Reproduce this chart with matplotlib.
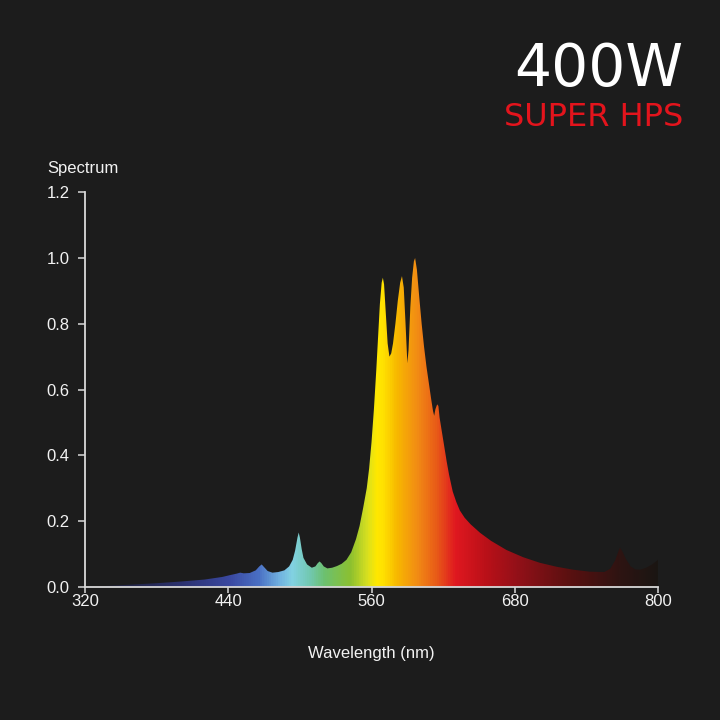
import numpy as np
import matplotlib
matplotlib.use("Agg")
import matplotlib.pyplot as plt
from matplotlib.colors import LinearSegmentedColormap

# spectrum (nm, relative intensity)
wavelength = [320, 340, 360, 380, 400, 420, 435, 442, 447, 450, 453, 458, 463, 466, 468,
              470, 473, 477, 482, 487, 491, 494, 496, 498, 499, 500, 501.5, 503, 506, 510,
              513, 515, 516.5, 518, 520, 523, 527, 531, 535, 539, 543, 547, 550, 553, 556,
              558, 560, 562, 564, 565.5, 567, 568.5, 569.5, 570.5, 572, 573.5, 575, 576.5,
              578, 580, 582, 584, 585.5, 587, 588.5, 590, 591, 592.5, 594, 595.5, 596.5,
              598, 600, 602, 604, 606, 608, 610, 611.5, 612.5, 613.5, 615, 616, 617, 619,
              621, 623, 625, 628, 631, 634, 638, 643, 651, 660, 673, 687, 701, 715, 729,
              743, 755, 760, 764, 766.5, 768, 770, 773, 777, 781, 785, 790, 795, 800]
intensity = [0.000, 0.003, 0.007, 0.011, 0.016, 0.022, 0.030, 0.036, 0.040, 0.043, 0.041,
             0.042, 0.050, 0.062, 0.068, 0.060, 0.048, 0.043, 0.045, 0.050, 0.062, 0.082,
             0.110, 0.150, 0.165, 0.150, 0.115, 0.088, 0.068, 0.058, 0.062, 0.072, 0.077,
             0.072, 0.062, 0.056, 0.058, 0.063, 0.070, 0.082, 0.105, 0.145, 0.185, 0.240,
             0.300, 0.360, 0.440, 0.540, 0.660, 0.760, 0.860, 0.925, 0.940, 0.920, 0.830,
             0.740, 0.700, 0.710, 0.740, 0.800, 0.870, 0.925, 0.945, 0.910, 0.800, 0.680,
             0.720, 0.850, 0.940, 0.990, 1.000, 0.965, 0.880, 0.800, 0.730, 0.670, 0.620,
             0.570, 0.535, 0.520, 0.540, 0.555, 0.550, 0.515, 0.470, 0.425, 0.380, 0.340,
             0.290, 0.258, 0.232, 0.210, 0.190, 0.164, 0.140, 0.112, 0.090, 0.073, 0.061,
             0.052, 0.046, 0.045, 0.055, 0.080, 0.105, 0.119, 0.108, 0.085, 0.062, 0.053,
             0.052, 0.058, 0.068, 0.082]

x_ticks = [320, 440, 560, 680, 800]
y_ticks = [0.0, 0.2, 0.4, 0.6, 0.8, 1.0, 1.2]

# colour along the wavelength axis
grad_wl = [320, 360, 400, 440, 465, 482, 493, 508, 520, 542, 556, 564, 570, 581,
           598, 615, 630, 657, 684, 726, 768, 800]
grad_colors = ["#1f2030", "#23264a", "#2c3270", "#3a48a0", "#4a70c4", "#70b0e0",
               "#82d2e2", "#72c8b0", "#6cc070", "#8cc030", "#d8e020", "#ffe800",
               "#ffe000", "#f8b800", "#f28c14", "#e85818", "#e01820", "#b81018",
               "#901018", "#5a1010", "#2e1412", "#1a1612"]

bg = "#1c1c1c"
fg = "#f2f2f2"
plt.rcParams["font.family"] = ["Liberation Sans", "DejaVu Sans"]

fig = plt.figure(figsize=(7.2, 7.2), dpi=100, facecolor=bg)
ax = fig.add_axes([0.118, 0.185, 0.796, 0.548], facecolor=bg)

pos = [(w - grad_wl[0]) / (grad_wl[-1] - grad_wl[0]) for w in grad_wl]
cmap = LinearSegmentedColormap.from_list("hps", list(zip(pos, grad_colors)))

poly = ax.fill_between(wavelength, intensity, 0, color="none", lw=0)
grad = np.linspace(0, 1, 960).reshape(1, -1)
img = ax.imshow(grad, cmap=cmap, aspect="auto", extent=[320, 800, 0, 1.2],
                origin="lower", zorder=2)
clip = poly.get_paths()[0]
img.set_clip_path(clip, transform=ax.transData)

ax.set_xlim(320, 800)
ax.set_ylim(0, 1.2)
ax.set_xticks(x_ticks)
ax.set_yticks(y_ticks)
ax.set_yticklabels([f"{v:.1f}" for v in y_ticks])

for s in ["top", "right"]:
    ax.spines[s].set_visible(False)
for s in ["left", "bottom"]:
    ax.spines[s].set_color("#d8d8d8")
    ax.spines[s].set_linewidth(1.3)
    ax.spines[s].set_zorder(5)
ax.tick_params(colors="#d8d8d8", labelcolor=fg, labelsize=12, length=5, width=1.1)
ax.tick_params(axis="y", pad=6)
ax.tick_params(axis="x", length=4, pad=1.5)

ax.set_xlabel("Wavelength (nm)", color=fg, fontsize=12, labelpad=26)
fig.text(47 / 720, 1 - 168 / 720, "Spectrum", color=fg, fontsize=12, ha="left", va="center")

fig.text(683 / 720, 1 - 86 / 720, "400W", color="white", fontsize=42,
         family="DejaVu Sans", ha="right", va="baseline")
fig.text(683 / 720, 1 - 126 / 720, "SUPER HPS", color="#e3141c", fontsize=23,
         family="DejaVu Sans", ha="right", va="baseline")

fig.savefig("out.png", dpi=100, facecolor=bg)
